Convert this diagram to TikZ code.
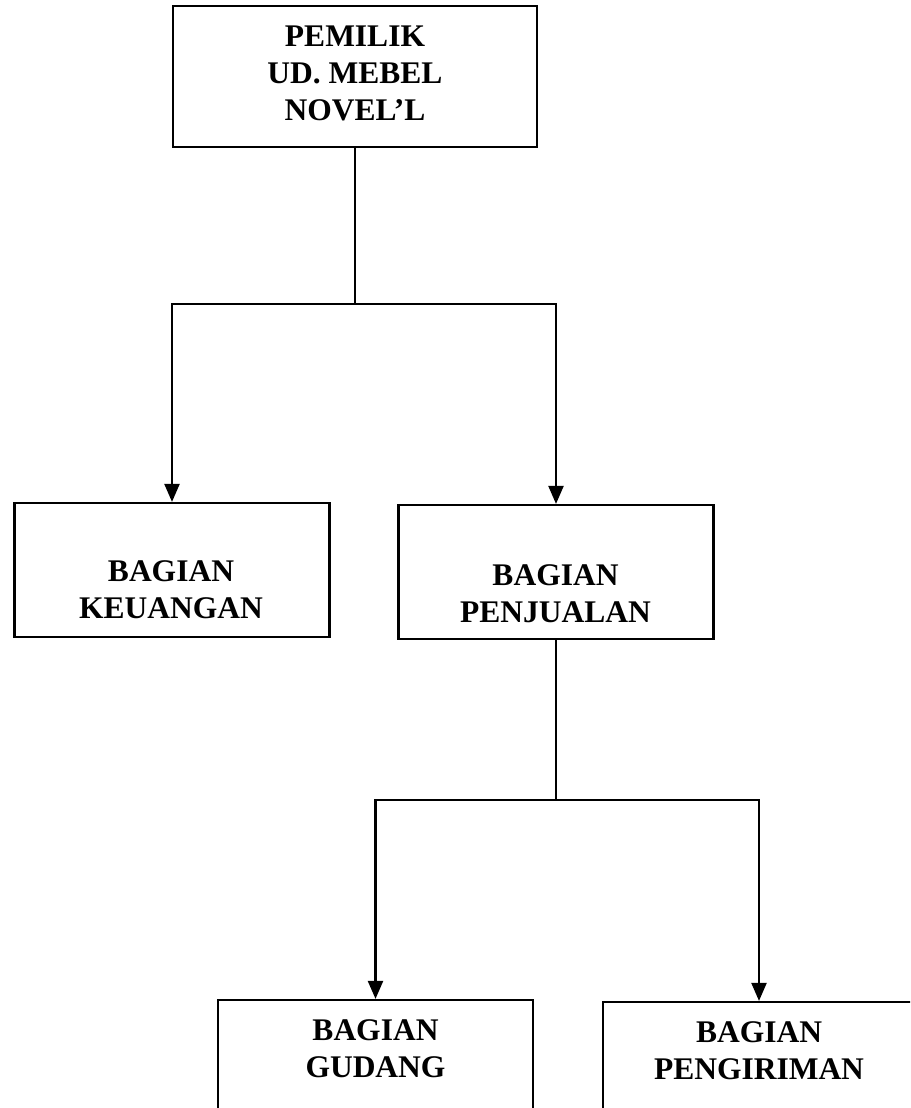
\documentclass[tikz,border=0pt]{standalone}
\usepackage{fontspec}
\setmainfont{Liberation Serif}
\usepackage{tikz}
\usetikzlibrary{arrows.meta}
\tikzstyle{unitbox}=[draw, line width=2.2pt, rectangle, minimum width=315pt, minimum height=134pt, inner sep=0pt]
\tikzstyle{unittext}=[align=center, inner sep=0pt, font=\bfseries\fontsize{31.5}{37}\selectfont]
\tikzstyle{down>}=[line width=2.2pt, -{Triangle[length=18pt,width=15pt]}]

\begin{document}
\begin{tikzpicture}[x=1pt,y=-1pt]
\useasboundingbox (0,0) rectangle (910,1108);
\clip (0,0) rectangle (910,1108);
\node[unitbox, minimum width=364pt, minimum height=141pt] (owner) at (355,76.5) {};
\node[unitbox] (keu) at (172,570) {};
\node[unitbox] (jual) at (556,572) {};
\node[unitbox] (gudang) at (375.5,1067) {};
\node[unitbox, minimum width=312pt] (kirim) at (759,1069) {};
\node[unittext] (owner-t) at (355,73) {PEMILIK\\UD. MEBEL\\NOVEL’L};
\node[unittext] (keu-t) at (171,590) {BAGIAN\\KEUANGAN};
\node[unittext] (jual-t) at (555.5,593.5) {BAGIAN\\PENJUALAN};
\node[unittext] (gudang-t) at (375.5,1048.5) {BAGIAN\\GUDANG};
\node[unittext] (kirim-t) at (759,1051) {BAGIAN\\PENGIRIMAN};
\coordinate (s1) at (355,304);
\coordinate (s2) at (556,800);
\draw[line width=2.2pt] (owner.south) -- (s1);
\draw[down>] (s1) -| (keu.north);
\draw[down>] (s1) -| (jual.north);
\draw[line width=2.2pt] (jual.south) -- (s2);
\draw[down>] (s2) -| (gudang.north);
\draw[down>] (s2) -| (kirim.north);
\end{tikzpicture}
\end{document}
